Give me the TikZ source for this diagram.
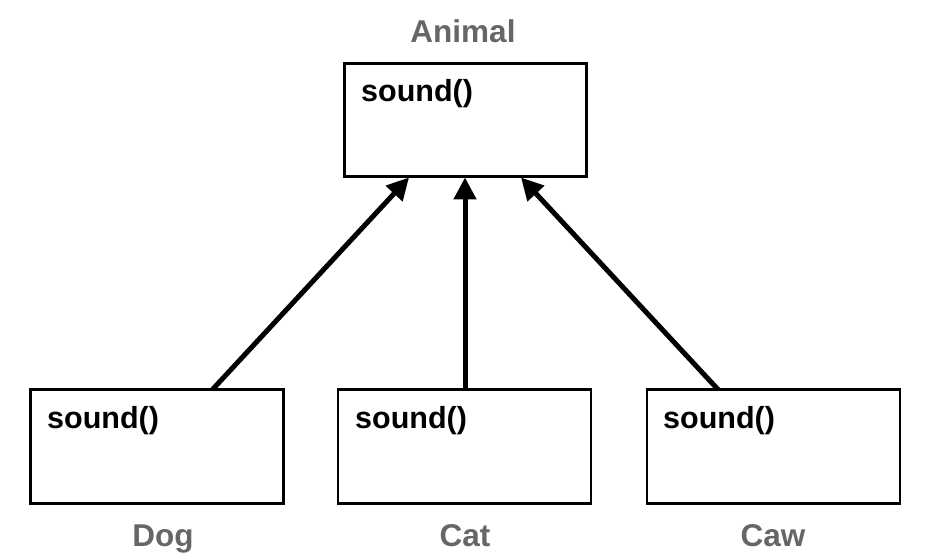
\documentclass[tikz,border=0pt]{standalone}
\usepackage{fontspec}
\setmainfont{Liberation Sans}
\usetikzlibrary{arrows.meta,calc}
\definecolor{lblgray}{HTML}{666666}
\tikzset{
  classbox/.style={draw=black, line width=2.5pt, fill=white, inner sep=0pt, outer sep=0pt, minimum width=242pt, minimum height=113pt},
  method/.style={anchor=base west, inner sep=0pt, font=\fontsize{30.5}{36}\selectfont\bfseries, text=black},
  classname/.style={anchor=base, inner sep=0pt, font=\fontsize{31.5}{37}\selectfont\bfseries, text=lblgray},
  inherit/.style={line width=5pt, -{Triangle[length=22pt,width=22pt]}}
}
\begin{document}
\begin{tikzpicture}[x=1pt,y=-1pt]
\path[use as bounding box, fill=white] (0,0) rectangle (935,559);
% boxes
\node[classbox] (animal) at (465.5,120) {};
\node[classbox, minimum width=253pt, minimum height=114pt] (dog) at (157,446.5) {};
\node[classbox, minimum width=253pt, minimum height=114pt] (cat) at (464.5,446.5) {};
\node[classbox, minimum width=253pt, minimum height=114pt] (caw) at (773.5,446.5) {};
% methods
\node[method] (animalm) at (361,102) {sound()};
\node[method] (dogm) at (47,428) {sound()};
\node[method] (catm) at (355,428) {sound()};
\node[method] (cawm) at (663,428) {sound()};
% class names
\node[classname] (animall) at (463,43) {Animal};
\node[classname] (dogl) at (163,546) {Dog};
\node[classname] (catl) at (465,546) {Cat};
\node[classname] (cawl) at (773,546) {Caw};
% inheritance arrows
\draw[inherit] ($(dog.north west)+(182,0)$) -- ($(animal.south west)+(64.5,1)$);
\draw[inherit] ($(cat.north west)+(127,0)$) -- ($(animal.south west)+(120.5,1)$);
\draw[inherit] ($(caw.north west)+(71,0)$) -- ($(animal.south west)+(176.5,1)$);
\end{tikzpicture}
\end{document}
